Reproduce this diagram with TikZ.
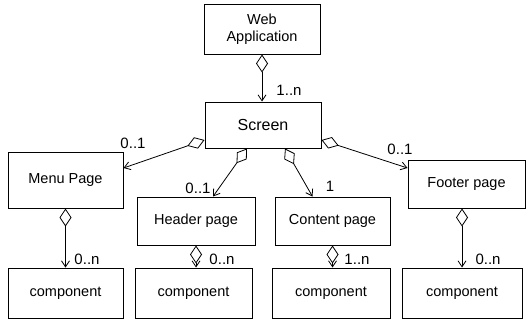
\documentclass[tikz,border=0pt]{standalone}
\usepackage{fontspec}
\setmainfont{Liberation Sans}
\usepackage{tikz}
\usetikzlibrary{arrows.meta,positioning,calc}

\tikzset{
    cls/.style={draw, line width=1pt, align=center, inner sep=0pt,
        font=\fontsize{14.5}{17}\selectfont},
    mult/.style={font=\fontsize{15}{17}\selectfont, inner sep=0pt},
    aggr/.style={line width=0.8pt,
        {Diamond[open,length=18pt,width=12pt]}-{Straight Barb[length=6pt,width=8pt]}}
}

\begin{document}
\begin{tikzpicture}[x=1pt,y=-1pt]
    \useasboundingbox (0,0) rectangle (526,329);

    % Classes
    \node [cls, minimum width=116pt, minimum height=49pt] (webapp) at (262,29.5) {Web\\Application};
    \node [cls, minimum width=116pt, minimum height=46pt, font=\fontsize{16}{18}\selectfont] (screen) at (263,125) {Screen};
    \node [cls, minimum width=115pt, minimum height=56pt] (menu) at (65.5,180) {Menu Page};
    \node [cls, minimum width=118pt, minimum height=48pt] (header) at (196,221) {Header page};
    \node [cls, minimum width=115pt, minimum height=48pt] (content) at (332.5,221) {Content page};
    \node [cls, minimum width=117pt, minimum height=48pt] (footer) at (466.5,184) {Footer page};

    % Components
    \node [cls, minimum width=115pt, minimum height=50pt] (comp1) at (65.5,293) {component};
    \node [cls, minimum width=117pt, minimum height=50pt] (comp2) at (193.5,293) {component};
    \node [cls, minimum width=118pt, minimum height=50pt] (comp3) at (331,293) {component};
    \node [cls, minimum width=120pt, minimum height=50pt] (comp4) at (462,293) {component};

    % Aggregations
    \draw [aggr] (webapp.south) -- (webapp.south |- screen.north);
    \draw [aggr] ([yshift=-15pt]screen.west) -- ([yshift=12pt]menu.east);
    \draw [aggr] ([xshift=-16pt]screen.south) -- ([xshift=17pt]header.north);
    \draw [aggr] ([xshift=22pt]screen.south) -- ([xshift=-20pt]content.north);
    \draw [aggr] ([yshift=-15pt]screen.east) -- ([yshift=16pt]footer.west);
    \draw [aggr] (menu.south) -- (comp1.north);
    \draw [aggr] (header.south) -- (header.south |- comp2.north);
    \draw [aggr] (content.south) -- (content.south |- comp3.north);
    \draw [aggr] (comp4.north |- footer.south) -- (comp4.north);

    % Multiplicities
    \node [mult] (m1) at (289,90) {1..n};
    \node [mult] (m2) at (133,143) {0..1};
    \node [mult] (m3) at (198,188) {0..1};
    \node [mult] (m4) at (330,186) {1};
    \node [mult] (m5) at (400,149) {0..1};
    \node [mult] (m6) at (87,259) {0..n};
    \node [mult] (m7) at (222,259) {0..n};
    \node [mult] (m8) at (357,259) {1..n};
    \node [mult] (m9) at (488,259) {0..n};
\end{tikzpicture}
\end{document}
